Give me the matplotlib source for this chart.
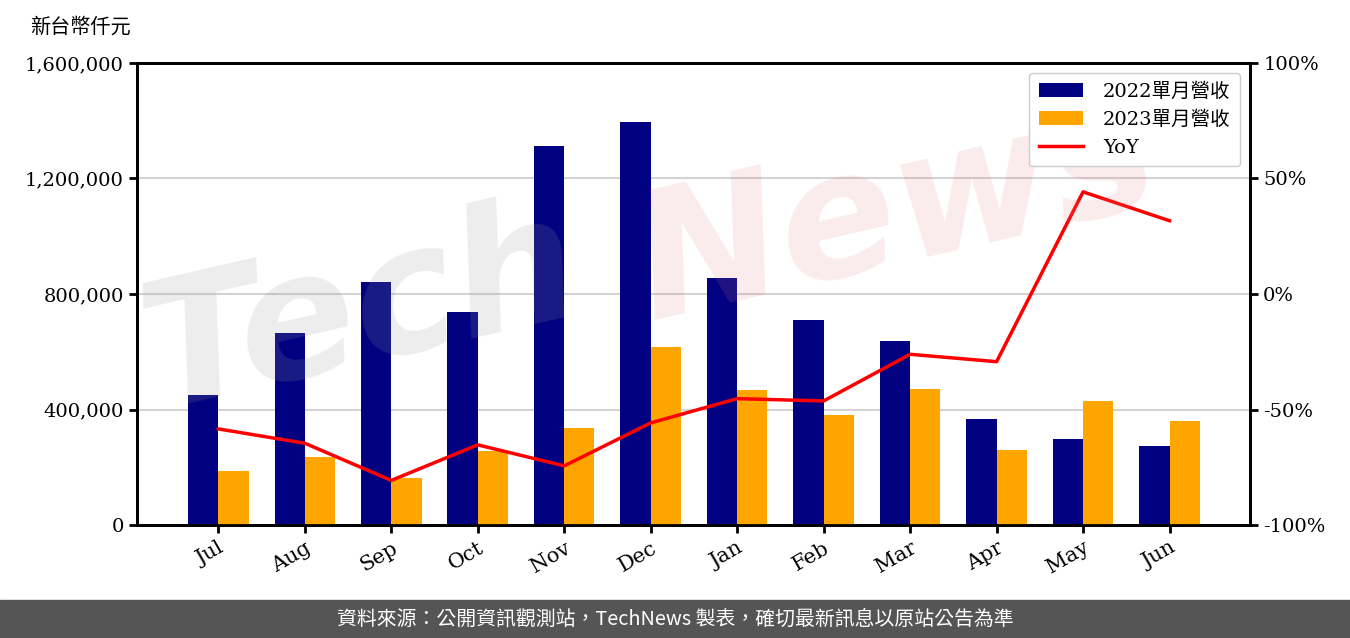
import numpy as np
import matplotlib
matplotlib.use('Agg')
from matplotlib import pyplot as plt
from matplotlib.ticker import FuncFormatter, MultipleLocator

plt.rcParams['font.family'] = ['DejaVu Serif', 'Noto Sans CJK TC']

## DATA

months = ['Jul', 'Aug', 'Sep', 'Oct', 'Nov', 'Dec', 'Jan', 'Feb', 'Mar', 'Apr', 'May', 'Jun']
rev_2022 = [450000, 665000, 841600, 737700, 1312600, 1395700, 855400, 710000, 637200, 367100, 297800, 273600]
rev_2023 = [187000, 235500, 162800, 256300, 335900, 616500, 467500, 381000, 471000, 259700, 429400, 360200]
yoy = [-58.4, -64.6, -80.7, -65.3, -74.4, -55.8, -45.3, -46.3, -26.1, -29.3, 44.2, 31.7]

## PLOT

fig = plt.figure(figsize=(13.5, 6.38), dpi=100)
ax = fig.add_axes([0.1015, 0.1771, 0.8244, 0.7242])
ax2 = ax.twinx()

x = np.arange(len(months))
w = 0.35
b1 = ax.bar(x - w / 2, rev_2022, w, color='#000080', label='2022單月營收', zorder=3)
b2 = ax.bar(x + w / 2, rev_2023, w, color='#FFA500', label='2023單月營收', zorder=3)
l1, = ax2.plot(x, yoy, color='red', lw=2.5, label='YoY', zorder=4)

ax.set_xlim(-0.94, 11.93)
ax.set_ylim(0, 1600000)
ax.yaxis.set_major_locator(MultipleLocator(400000))
ax.yaxis.set_major_formatter(FuncFormatter(lambda v, p: f'{int(v):,}'))
ax.grid(axis='y', color='#d3d3d3', lw=1.5, zorder=0)
ax.set_xticks(x)
ax.set_xticklabels(months, rotation=30, ha='right', rotation_mode='anchor')

ax2.set_ylim(-100, 100)
ax2.yaxis.set_major_locator(MultipleLocator(50))
ax2.yaxis.set_major_formatter(FuncFormatter(lambda v, p: f'{int(v)}%'))

for a in (ax, ax2):
    for s in a.spines.values():
        s.set_linewidth(2)
    a.tick_params(width=2, length=6)
ax.tick_params(axis='y', labelsize=14)
ax.tick_params(axis='x', labelsize=15)
ax2.tick_params(labelsize=14)

leg = ax2.legend(handles=[b1, b2, l1], loc='upper right', fontsize=14, framealpha=1,
                 edgecolor='#cccccc', handlelength=2.3, handletextpad=1.0, borderpad=0.5)
leg.set_zorder(10)

# watermark, faint, drawn above the bars but below the legend, kept inside the axes
wm1 = ax2.text(0.095, 0.36, 'Tech', fontsize=125, color='#999999', alpha=0.18, rotation=13,
               style='italic', family='DejaVu Sans', weight='bold', zorder=5,
               transform=fig.transFigure, clip_on=True)
wm2 = ax2.text(0.46, 0.5, 'News', fontsize=125, color='#e08080', alpha=0.15, rotation=13,
               style='italic', family='DejaVu Sans', weight='bold', zorder=5,
               transform=fig.transFigure, clip_on=True)
wm1.set_clip_box(ax2.bbox)
wm2.set_clip_box(ax2.bbox)

fig.text(0.022, 0.957, '新台幣仟元', fontsize=14.5, ha='left', va='center',
         family=['Noto Sans CJK TC'])

# footer
fig.patches.append(plt.Rectangle((0, 0), 1, 0.06, transform=fig.transFigure,
                                 color='#555555', zorder=0))
fig.text(0.5, 0.03, '資料來源：公開資訊觀測站，TechNews 製表，確切最新訊息以原站公告為準',
         color='white', fontsize=14.3, ha='center', va='center', family=['Noto Sans CJK TC'])

plt.savefig('out.png', dpi=100)
